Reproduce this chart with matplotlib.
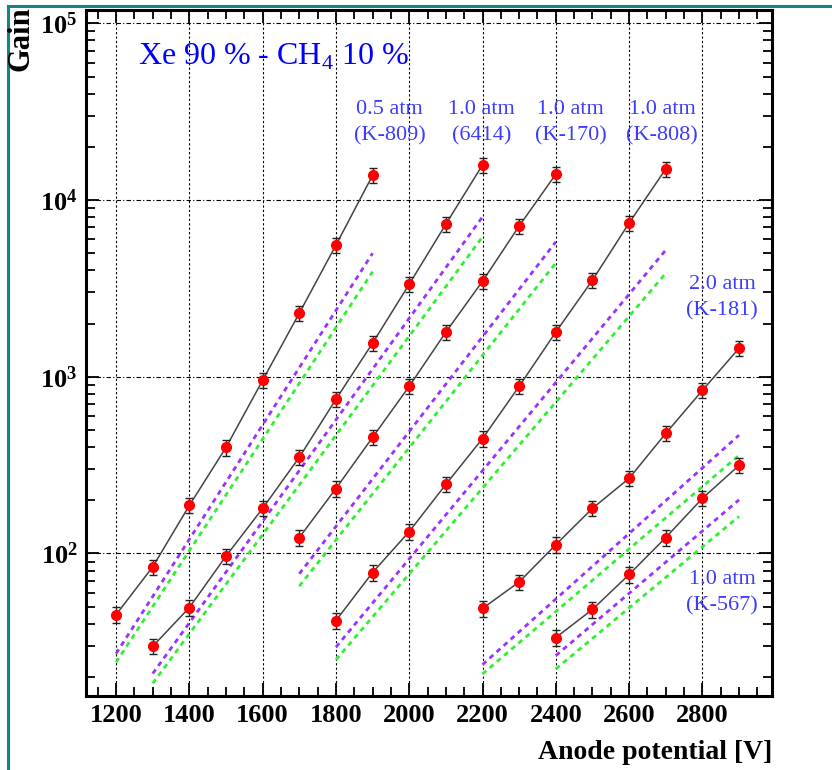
import numpy as np
import matplotlib.pyplot as plt
from matplotlib.ticker import MultipleLocator, LogLocator, NullFormatter
from matplotlib.lines import Line2D

plt.rcParams['font.family'] = 'Liberation Serif'
plt.rcParams['mathtext.fontset'] = 'custom'
plt.rcParams['mathtext.rm'] = 'Liberation Serif:bold'
plt.rcParams['mathtext.sf'] = 'Liberation Serif'

# Measured gain vs anode potential, one list per GEM
v_k809 = [1200, 1300, 1400, 1500, 1600, 1700, 1800, 1900]
g_k809 = [45, 84, 187, 398, 955, 2290, 5560, 13800]

v_6414 = [1300, 1400, 1500, 1600, 1700, 1800, 1900, 2000, 2100, 2200]
g_6414 = [29.8, 49.4, 96.6, 180, 350, 746, 1550, 3340, 7310, 15800]

v_k170 = [1700, 1800, 1900, 2000, 2100, 2200, 2300, 2400]
g_k170 = [123, 233, 454, 883, 1790, 3470, 7130, 14000]

v_k808 = [1800, 1900, 2000, 2100, 2200, 2300, 2400, 2500, 2600, 2700]
g_k808 = [41.7, 78, 133, 246, 447, 883, 1790, 3520, 7410, 15000]

v_k181 = [2200, 2300, 2400, 2500, 2600, 2700, 2800, 2900]
g_k181 = [48.8, 69, 112, 180, 266, 478, 837, 1450]

v_k567 = [2400, 2500, 2600, 2700, 2800, 2900]
g_k567 = [33.4, 48.2, 76, 123, 205, 315]

rel_err = 0.10

# simulated curves (start / end of each dashed line)
sim_v = [(1200, 1900), (1300, 2200), (1700, 2400), (1800, 2700), (2200, 2900), (2400, 2900)]
sim_purple = [(27.1, 5000), (20.9, 8040), (76.7, 5800), (29.5, 5210), (23.5, 467), (26.4, 201)]
sim_green = [(24.2, 3930), (18.4, 6190), (65.3, 4400), (25.0, 3850), (20.8, 359), (22.2, 162)]

labels = ['0.5 atm\n(K-809)', '1.0 atm\n(6414)', '1.0 atm\n(K-170)', '1.0 atm\n(K-808)',
          '2.0 atm\n(K-181)', '1.0 atm\n(K-567)']
label_v = [1946, 2198, 2441, 2690, 2854, 2854]
label_g = [27300, 27300, 27300, 27300, 2800, 60]

x_ticks = [1200, 1400, 1600, 1800, 2000, 2200, 2400, 2600, 2800]
y_ticks = [1e2, 1e3, 1e4, 1e5]
y_ticklabels = [r'$\mathrm{10^{2}}$', r'$\mathrm{10^{3}}$', r'$\mathrm{10^{4}}$', r'$\mathrm{10^{5}}$']

fig = plt.figure(figsize=(8.32, 7.70), dpi=100)
ax = fig.add_axes([0.1034, 0.0961, 0.8245, 0.8909])

ax.set_yscale('log')
ax.set_xlim(1118, 2990)
ax.set_ylim(15.6, 1.19e5)

# dashed simulation lines
for (v0, v1), gp, gg in zip(sim_v, sim_purple, sim_green):
    ax.plot([v0, v1], gp, color='#9933ff', lw=2, ls=(0, (1.8, 1.6)), zorder=2)
    ax.plot([v0, v1], gg, color='#33ee33', lw=2, ls=(0, (1.8, 1.6)), zorder=2)

# measured data
for v, g in [(v_k809, g_k809), (v_6414, g_6414), (v_k170, g_k170),
             (v_k808, g_k808), (v_k181, g_k181), (v_k567, g_k567)]:
    g = np.array(g)
    ax.plot(v, g, color='#444444', lw=1.1, zorder=3)
    ax.errorbar(v, g, yerr=g * rel_err, fmt='o', color='red', ms=7,
                ecolor='#222222', elinewidth=1, capsize=3, capthick=1, zorder=4)

for txt, lv, lg in zip(labels, label_v, label_g):
    ax.text(lv, lg, txt, color='#3c3cff', fontsize=16, ha='center', va='center',
            linespacing=1.5, zorder=5)

ax.text(1260, 64400, r'Xe 90 % - CH$_\mathsf{4}$ 10 %', color='blue', fontsize=23,
        ha='left', va='center')

# grid
ax.set_xticks(x_ticks)
ax.set_yticks(y_ticks)
ax.set_yticklabels(y_ticklabels)
ax.xaxis.set_minor_locator(MultipleLocator(50))
ax.yaxis.set_minor_locator(LogLocator(base=10, subs=np.arange(2, 10)))
ax.yaxis.set_minor_formatter(NullFormatter())
ax.grid(True, which='major', axis='x', color='black', lw=0.8, ls=(0, (2, 2)))
ax.grid(True, which='major', axis='y', color='black', lw=0.8, ls=(0, (4, 2, 1, 2)))

ax.tick_params(which='both', direction='in', top=True, right=True, width=1.3)
ax.tick_params(which='major', length=9.5, labelsize=19, pad=6)
ax.tick_params(which='minor', length=6.5)
for lab in ax.get_xticklabels():
    lab.set_fontweight('bold')
for sp in ax.spines.values():
    sp.set_linewidth(2.2)

ax.set_xlabel('Anode potential [V]', fontsize=20, fontweight='bold', loc='right', labelpad=9)
fig.text(21 / 832, 1 - 6 / 770, 'Gain', rotation=90, fontsize=22, fontweight='bold',
         ha='center', va='top')

# teal frame around the picture
fig.add_artist(Line2D([8 / 832, 8 / 832], [0, 1 - 6 / 770], color='#138585', lw=2.2))
fig.add_artist(Line2D([8 / 832, 1], [1 - 6 / 770, 1 - 6 / 770], color='#138585', lw=2.2))

fig.savefig('out.png', dpi=100)
